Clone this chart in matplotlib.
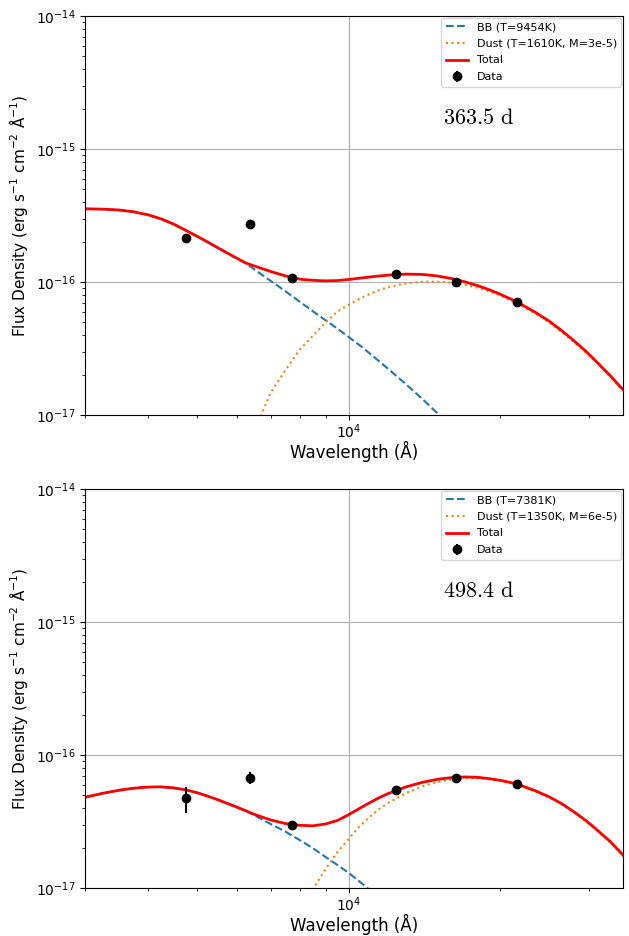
import matplotlib.pyplot as plt
from matplotlib.ticker import NullFormatter

lam_model = [3000, 3250, 3500, 3750, 4000, 4250, 4500, 4750, 5000, 5250, 5500, 5750,
             6000, 6250, 6500, 7000, 7500, 8000, 8500, 9000, 9500, 10000, 10500, 11000,
             11500, 12000, 13000, 14000, 15000, 16000, 17000, 18000, 19000, 20000, 21000,
             22000, 23500, 25000, 26500, 28000, 29500, 31000, 33000, 35000]

# photometry (g r i J H K)
lam_data = [4760, 6380, 7720, 12420, 16330, 21540]

# --- epoch 1: 363.5 d ---
epoch_1 = r'$\mathrm{363.5\ d}$'
bb_label_1 = 'BB (T=9454K)'
dust_label_1 = 'Dust (T=1610K, M=3e-5)'
total_1 = [3.55e-16, 3.53e-16, 3.48e-16, 3.37e-16, 3.20e-16, 2.98e-16, 2.72e-16, 2.45e-16,
           2.21e-16, 2.00e-16, 1.81e-16, 1.65e-16, 1.51e-16, 1.39e-16, 1.32e-16, 1.20e-16,
           1.11e-16, 1.05e-16, 1.03e-16, 1.02e-16, 1.025e-16, 1.045e-16, 1.068e-16,
           1.09e-16, 1.11e-16, 1.127e-16, 1.146e-16, 1.14e-16, 1.11e-16, 1.062e-16,
           1.003e-16, 9.41e-17, 8.75e-17, 8.08e-17, 7.43e-17, 6.79e-17, 5.89e-17, 5.07e-17,
           4.29e-17, 3.61e-17, 3.03e-17, 2.52e-17, 1.98e-17, 1.55e-17]
bb_lam_1 = lam_model[:30]
bb_1 = [3.55e-16, 3.53e-16, 3.48e-16, 3.37e-16, 3.20e-16, 2.98e-16, 2.72e-16, 2.45e-16,
        2.21e-16, 2.00e-16, 1.81e-16, 1.65e-16, 1.50e-16, 1.385e-16, 1.245e-16, 1.02e-16,
        8.5e-17, 7.1e-17, 6.01e-17, 5.15e-17, 4.46e-17, 3.86e-17, 3.36e-17, 2.91e-17,
        2.53e-17, 2.21e-17, 1.70e-17, 1.32e-17, 1.03e-17, 8.15e-18]
dust_lam_1 = lam_model[14:]
dust_1 = [7.5e-18, 1.47e-17, 2.19e-17, 3.10e-17, 3.95e-17, 4.97e-17, 6.01e-17, 6.75e-17,
          7.45e-17, 8.12e-17, 8.70e-17, 9.17e-17, 9.77e-17, 1.005e-16, 1.005e-16, 9.88e-17,
          9.54e-17, 9.06e-17, 8.50e-17, 7.89e-17, 7.24e-17, 6.64e-17, 5.75e-17, 4.95e-17,
          4.18e-17, 3.52e-17, 2.96e-17, 2.48e-17, 1.94e-17, 1.53e-17]
flux_1 = [2.14e-16, 2.71e-16, 1.07e-16, 1.15e-16, 1.0e-16, 7.07e-17]
err_1 = [1.0e-17, 1.2e-17, 5e-18, 5e-18, 4e-18, 3e-18]

# --- epoch 2: 498.4 d ---
epoch_2 = r'$\mathrm{498.4\ d}$'
bb_label_2 = 'BB (T=7381K)'
dust_label_2 = 'Dust (T=1350K, M=6e-5)'
total_2 = [4.81e-17, 5.15e-17, 5.43e-17, 5.63e-17, 5.74e-17, 5.76e-17, 5.66e-17, 5.47e-17,
           5.21e-17, 4.91e-17, 4.61e-17, 4.32e-17, 4.06e-17, 3.81e-17, 3.58e-17, 3.25e-17,
           3.05e-17, 2.96e-17, 2.935e-17, 3.03e-17, 3.22e-17, 3.56e-17, 3.96e-17, 4.37e-17,
           4.78e-17, 5.15e-17, 5.76e-17, 6.23e-17, 6.57e-17, 6.76e-17, 6.84e-17, 6.80e-17,
           6.64e-17, 6.45e-17, 6.20e-17, 5.88e-17, 5.37e-17, 4.84e-17, 4.29e-17, 3.73e-17,
           3.23e-17, 2.76e-17, 2.24e-17, 1.77e-17]
bb_lam_2 = lam_model[:25]
bb_2 = [4.81e-17, 5.15e-17, 5.43e-17, 5.63e-17, 5.74e-17, 5.76e-17, 5.66e-17, 5.47e-17,
        5.21e-17, 4.91e-17, 4.61e-17, 4.32e-17, 4.05e-17, 3.80e-17, 3.52e-17, 3.03e-17,
        2.65e-17, 2.29e-17, 1.99e-17, 1.71e-17, 1.49e-17, 1.30e-17, 1.12e-17, 9.7e-18,
        8.4e-18]
dust_lam_2 = lam_model[17:]
dust_2 = [7.05e-18, 9.86e-18, 1.39e-17, 1.86e-17, 2.34e-17, 2.90e-17, 3.42e-17, 3.93e-17,
          4.38e-17, 5.18e-17, 5.82e-17, 6.27e-17, 6.53e-17, 6.68e-17, 6.68e-17, 6.57e-17,
          6.38e-17, 6.13e-17, 5.82e-17, 5.30e-17, 4.78e-17, 4.24e-17, 3.69e-17, 3.19e-17,
          2.73e-17, 2.21e-17, 1.75e-17]
flux_2 = [4.73e-17, 6.76e-17, 2.96e-17, 5.46e-17, 6.76e-17, 6.09e-17]
err_2 = [1.05e-17, 7.5e-18, 1.5e-18, 2e-18, 2e-18, 2e-18]


def draw_panel(ax, bb_lam, bb, bb_label, dust_lam, dust, dust_label, total, flux, err, epoch):
    ax.plot(bb_lam, bb, '--', color='C0', lw=1.5, label=bb_label)
    ax.plot(dust_lam, dust, ':', color='C1', lw=1.5, label=dust_label)
    ax.plot(lam_model, total, '-', color='red', lw=2, label='Total')
    ax.errorbar(lam_data, flux, yerr=err, fmt='o', color='black', label='Data')
    ax.set_xscale('log')
    ax.set_yscale('log')
    ax.set_xlim(3000, 35000)
    ax.set_ylim(1e-17, 1e-14)
    ax.xaxis.set_minor_formatter(NullFormatter())
    ax.tick_params(axis='x', which='both', pad=1.5)
    ax.grid(True)
    ax.set_xlabel('Wavelength (Å)', fontsize=12, labelpad=0)
    ax.set_ylabel('Flux Density (erg s$^{-1}$ cm$^{-2}$ Å$^{-1}$)', fontsize=11)
    ax.legend(loc='upper right', fontsize=8, labelspacing=0.6, borderaxespad=0.15)
    ax.text(0.665, 0.745, epoch, transform=ax.transAxes, fontsize=16,
            math_fontfamily='cm', va='center')


fig = plt.figure(figsize=(6.29, 9.36), dpi=100)
ax1 = fig.add_axes([85 / 629, 1 - 415 / 936, 538 / 629, 399 / 936])
ax2 = fig.add_axes([85 / 629, 1 - 888 / 936, 538 / 629, 399 / 936])

draw_panel(ax1, bb_lam_1, bb_1, bb_label_1, dust_lam_1, dust_1, dust_label_1,
           total_1, flux_1, err_1, epoch_1)
draw_panel(ax2, bb_lam_2, bb_2, bb_label_2, dust_lam_2, dust_2, dust_label_2,
           total_2, flux_2, err_2, epoch_2)

fig.savefig('out.png', dpi=100)
